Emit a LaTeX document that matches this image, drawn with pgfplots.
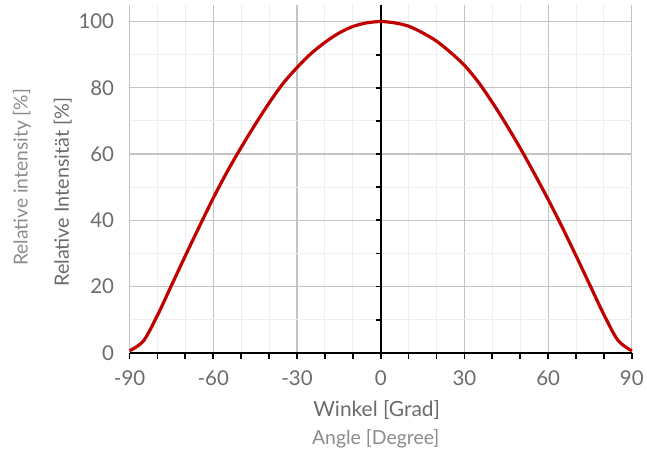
\documentclass[border=0pt]{standalone}
\usepackage{pgfplots}
\pgfplotsset{compat=1.18}
\usepackage{fontspec}
\setmainfont{Lato}
\definecolor{curvered}{HTML}{C00000}
\definecolor{ticktext}{HTML}{6B6B6B}
\definecolor{softtext}{HTML}{8C8C8C}
\definecolor{majgrid}{HTML}{C4C4C4}
\definecolor{mingrid}{HTML}{EEEEEE}
\begin{document}
\begin{tikzpicture}
\path (-130pt,-107pt) rectangle (517pt,354pt);
\begin{axis}[
  scale only axis, width=504pt, height=349pt,
  xmin=-90, xmax=90, ymin=0, ymax=105,
  xtick={-90,-60,...,90}, ytick={0,20,...,100},
  minor x tick num=2, minor y tick num=1,
  grid=both,
  major grid style={majgrid, line width=1.1pt},
  minor grid style={mingrid, line width=0.9pt},
  major tick length=0pt, minor tick length=0pt,
  axis line style={draw=none},
  tick label style={font=\fontsize{20.5}{24}\selectfont, text=ticktext},
  /pgf/number format/assume math mode=true,
  yticklabel style={xshift=-12pt},
  xticklabel style={yshift=-14pt},
  clip=false,
]
% axis lines through the origin
\draw[black, line width=2.3pt] (axis cs:-90,0) -- (axis cs:90,0);
\draw[black, line width=2.2pt] (axis cs:0,0) -- (axis cs:0,105);
\pgfplotsinvokeforeach{-90,-80,...,90}{\draw[black, line width=1.8pt] (axis cs:#1,0) -- ++(0pt,-6pt);}
\pgfplotsinvokeforeach{10,20,...,100}{\draw[black, line width=1.8pt] (axis cs:0,#1) -- ++(-5pt,0pt);}
\addplot[curvered, line width=3.2pt, smooth, tension=0.5] coordinates {
(-90,0.6) (-85,3.6) (-80,11.3) (-75,20.3) (-70,29.3) (-65,38.1) (-60,46.7)
(-55,54.7) (-50,62.0) (-45,68.9) (-40,75.4) (-35,81.3) (-30,86.1) (-25,90.3)
(-20,93.7) (-15,96.5) (-10,98.5) (-5,99.6) (0,100) (5,99.6) (10,98.6)
(15,96.6) (20,94.1) (25,90.7) (30,86.8) (35,81.7) (40,75.6) (45,68.9) (50,61.8)
(55,54.2) (60,46.3) (65,38.0) (70,29.3) (75,20.4) (80,11.5) (85,3.8) (90,0.6)
};
\end{axis}
\node[rotate=90, text=ticktext, font=\fontsize{19.8}{22}\selectfont] at (-67pt,161pt) {Relative Intensität [\%]};
\node[rotate=90, text=softtext, font=\fontsize{19.3}{22}\selectfont] at (-108pt,176pt) {Relative intensity [\%]};
\node[text=ticktext, font=\fontsize{21}{24}\selectfont] at (248pt,-57pt) {Winkel [Grad]};
\node[text=softtext, font=\fontsize{19.5}{22}\selectfont] at (247pt,-86pt) {Angle [Degree]};
\end{tikzpicture}
\end{document}
